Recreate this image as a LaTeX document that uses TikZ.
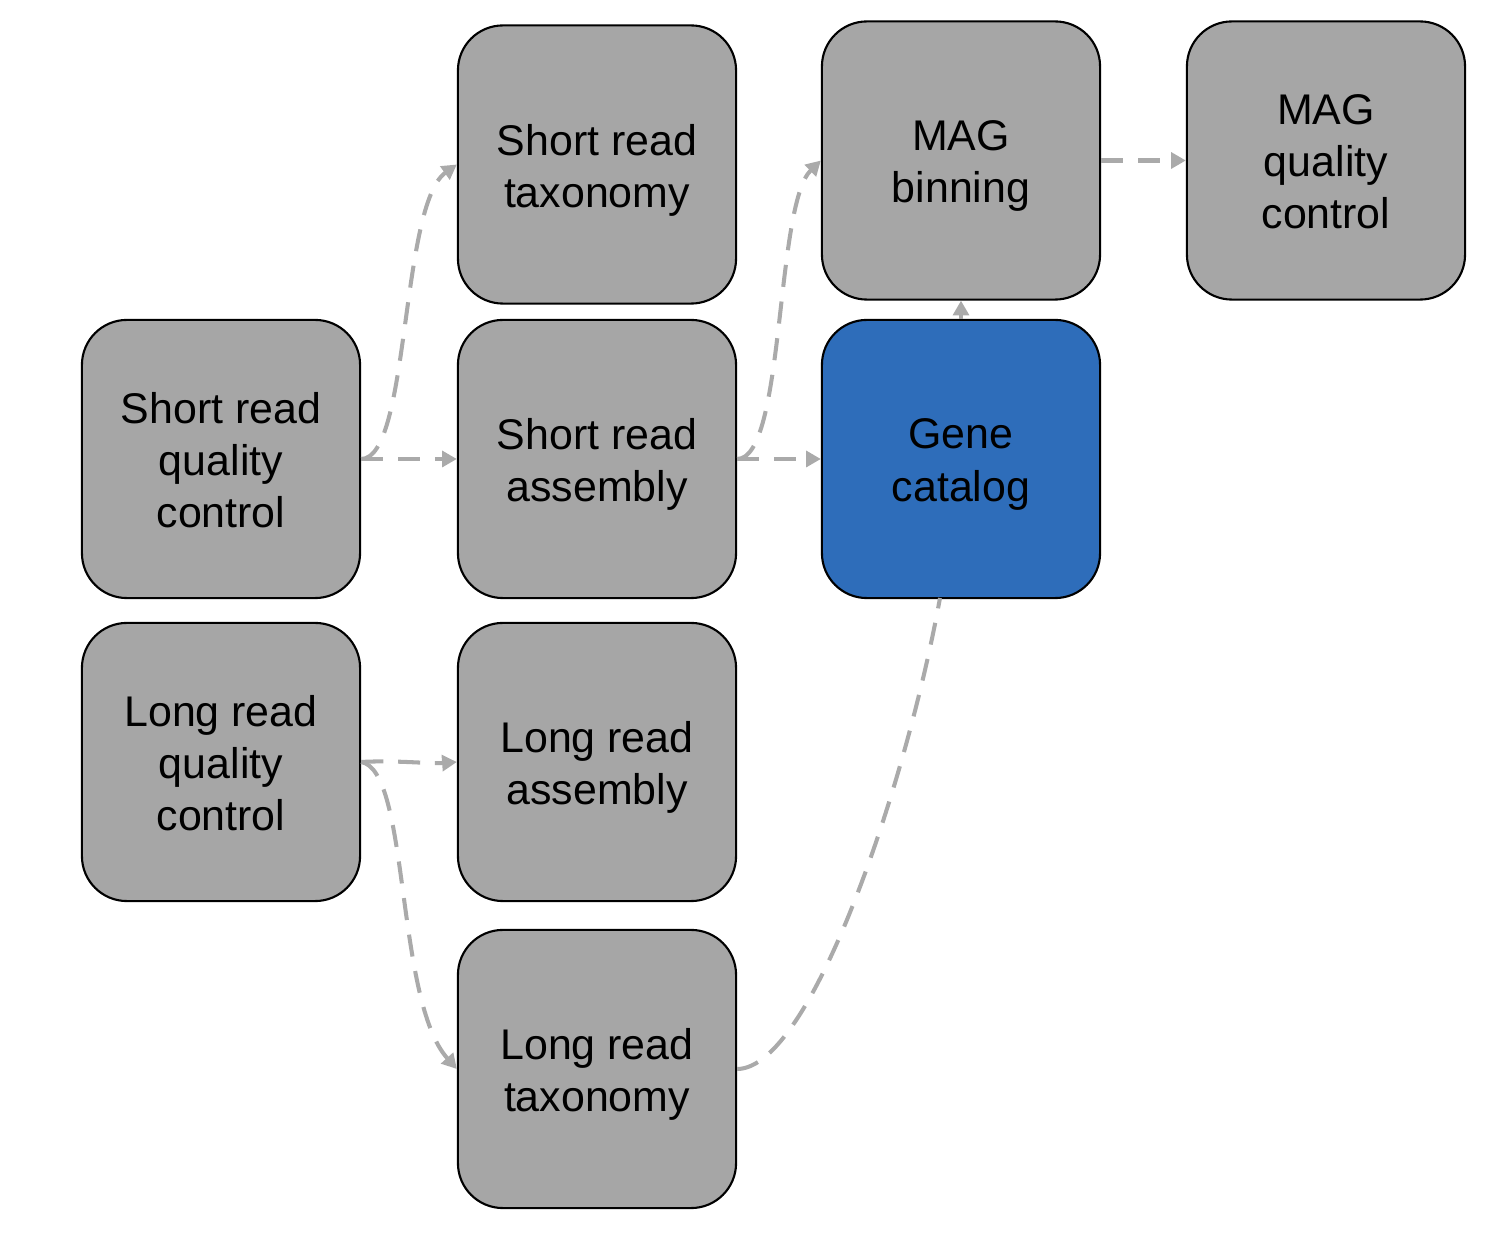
\documentclass[tikz,border=0pt]{standalone}
\usepackage{fontspec}
\setmainfont{Liberation Sans}
\usetikzlibrary{arrows.meta}
\definecolor{boxgray}{HTML}{A6A6A6}
\definecolor{boxblue}{HTML}{2E6DBA}
\definecolor{linkgray}{HTML}{AAAAAA}
\begin{document}
\begin{tikzpicture}[x=0.01cm,y=-0.01cm,
  box/.style={draw=black,line width=0.6pt,fill=boxgray,rounded corners=0.45cm,
    minimum width=2.78cm,minimum height=2.78cm,inner sep=0pt},
  stage/.style={box,
    label={[inner sep=0pt,yshift=-0.055cm,align=center,
      font=\fontsize{12.2}{14.8}\selectfont]center:#1}},
  stagethree/.style={box,
    label={[inner sep=0pt,yshift=-0.015cm,align=center,
      font=\fontsize{12.2}{14.8}\selectfont]center:#1}},
  link/.style={draw=linkgray,line width=1.15pt,dash pattern=on 6.3pt off 4.2pt,
    -{Triangle[length=4.2pt,width=4.5pt]}},
  plain/.style={draw=linkgray,line width=1.15pt,dash pattern=on 6.3pt off 4.2pt}]
\useasboundingbox (0,0) rectangle (1508,1240);
\node[stagethree={Short read\\quality\\control}] (srqc) at (221,459) {};
\node[stage={Short read\\taxonomy}] (srt) at (597,164.5) {};
\node[stage={Short read\\assembly}] (sra) at (597,459) {};
\node[stagethree={Long read\\quality\\control}] (lrqc) at (221,762) {};
\node[stage={Long read\\assembly}] (lra) at (597,762) {};
\node[stage={Long read\\taxonomy}] (lrt) at (597,1069) {};
\node[stage={MAG\\binning}] (magb) at (961,160.5) {};
\node[stage={Gene\\catalog},fill=boxblue] (gc) at (961,459) {};
\node[stagethree={MAG\\quality\\control}] (magqc) at (1326,160.5) {};
\draw[link] (srqc.east) .. controls (410,459) and (400,205) .. (srt.west);
\draw[link] (srqc.east) -- (sra.west);
\draw[link] (sra.east) .. controls (785,459) and (775,205) .. (magb.west);
\draw[link] (sra.east) -- (gc.west);
\draw[link,solid] (gc.north) -- (magb.south);
\draw[link] (magb.east) -- (magqc.west);
\draw[link] (lrqc.east) .. controls (395,760) and (430,764) .. (lra.west);
\draw[link] (lrqc.east) .. controls (410,770) and (395,1000) .. (lrt.west);
\coordinate (gcin) at (940,598);
\draw[plain] (lrt.east) .. controls (810,1069) and (905,790) .. (gcin);
\end{tikzpicture}
\end{document}
